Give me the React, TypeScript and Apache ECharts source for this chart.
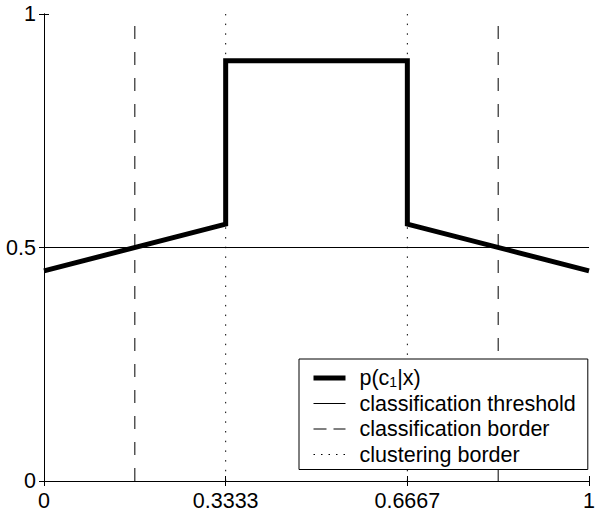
import React, { useEffect, useRef } from "react";
import * as echarts from "echarts";

// ---- data ----
const curveX = [0, 1 / 3, 1 / 3, 2 / 3, 2 / 3, 1];
const curveY = [0.45, 0.55, 0.9, 0.9, 0.55, 0.45];
const thresholdValue = 0.5;
const classificationBorders = [1 / 6, 5 / 6];
const clusteringBorders = [1 / 3, 2 / 3];
const xTickLabels = ["0", "0.3333", "0.6667", "1"];
const yTickLabels = ["0", "0.5", "1"];
const seriesNames = [
  "p(c1|x)",
  "classification threshold",
  "classification border",
  "clustering border",
];

const FONT = "'Liberation Sans', Arial, Helvetica, sans-serif";
const FS = 21.5;

export default function App() {
  const ref = useRef<HTMLDivElement>(null);

  useEffect(() => {
    if (!ref.current) return;
    const chart = echarts.init(ref.current, undefined, { renderer: "svg" });

    const xLabel = (v: number) => xTickLabels[Math.round(v * 3)] ?? "";
    const yLabel = (v: number) => yTickLabels[Math.round(v * 2)] ?? "";

    const series: any[] = [];
    series.push({
      name: seriesNames[1],
      type: "line",
      symbol: "none",
      silent: true,
      data: [
        [0, thresholdValue],
        [1, thresholdValue],
      ],
      lineStyle: { color: "#000", width: 1, type: "solid" },
      z: 2,
    });
    classificationBorders.forEach((b) =>
      series.push({
        name: seriesNames[2],
        type: "line",
        symbol: "none",
        silent: true,
        data: [
          [b, 0],
          [b, 1],
        ],
        lineStyle: { color: "#000", width: 1, type: [13, 13] },
        z: 2,
      })
    );
    clusteringBorders.forEach((b) =>
      series.push({
        name: seriesNames[3],
        type: "line",
        symbol: "none",
        silent: true,
        data: [
          [b, 0],
          [b, 1],
        ],
        lineStyle: { color: "#000", width: 1, type: [1.5, 8.2] },
        z: 2,
      })
    );
    series.push({
      name: seriesNames[0],
      type: "line",
      symbol: "none",
      silent: true,
      data: curveX.map((x, i) => [x, curveY[i]]),
      lineStyle: { color: "#000", width: 5, join: "miter", cap: "butt" },
      z: 3,
    });

    const axisCommon = {
      type: "value" as const,
      min: 0,
      max: 1,
      splitLine: { show: false },
      axisLine: { show: true, lineStyle: { color: "#000", width: 1 } },
      axisTick: { show: true, inside: true, length: 5, lineStyle: { color: "#000" } },
    };

    chart.setOption({
      animation: false,
      backgroundColor: "#fff",
      textStyle: { fontFamily: FONT },
      grid: { left: 44, top: 14, right: 2, bottom: 30, containLabel: false },
      xAxis: [
        {
          ...axisCommon,
          position: "bottom",
          interval: 1 / 3,
          axisLabel: {
            show: true,
            formatter: xLabel,
            color: "#000",
            fontSize: FS,
            fontFamily: FONT,
            margin: 9,
            showMinLabel: true,
            showMaxLabel: true,
          },
        },
        {
          ...axisCommon,
          position: "top",
          interval: 1 / 3,
          axisLabel: { show: false },
        },
      ],
      yAxis: [
        {
          ...axisCommon,
          position: "left",
          interval: 0.5,
          axisLabel: {
            show: true,
            formatter: yLabel,
            color: "#000",
            fontSize: FS,
            fontFamily: FONT,
            margin: 8,
          },
        },
        {
          ...axisCommon,
          position: "right",
          interval: 0.5,
          axisLabel: { show: false },
        },
      ],
      legend: {
        show: true,
        orient: "vertical",
        left: 299,
        top: 359,
        padding: [3, 12, 4, 12],
        itemGap: 3.5,
        itemWidth: 32,
        itemHeight: 24,
        backgroundColor: "#fff",
        borderColor: "#000",
        borderWidth: 1,
        borderRadius: 0,
        selectedMode: false,
        data: [
          { name: seriesNames[0] },
          { name: seriesNames[1] },
          { name: seriesNames[2], lineStyle: { type: [13, 7] } },
          { name: seriesNames[3], lineStyle: { type: [1.5, 6] } },
        ],
        itemStyle: { opacity: 0 },
        lineStyle: { width: "inherit", type: "inherit", color: "inherit" },
        formatter: (name: string) =>
          name === seriesNames[0] ? "{n|p(c}{s|1}{n||x)}" : "{m|" + name + "}",
        textStyle: {
          color: "#000",
          fontFamily: FONT,
          fontSize: FS,
          padding: [0, 0, 0, 9],
          rich: {
            m: { fontSize: FS, lineHeight: 22, color: "#000", fontFamily: FONT },
            n: {
              fontSize: FS,
              lineHeight: 22,
              verticalAlign: "top",
              color: "#000",
              fontFamily: FONT,
            },
            s: {
              fontSize: 14,
              lineHeight: 14,
              padding: [13, 0, 0, 0],
              verticalAlign: "bottom",
              color: "#000",
              fontFamily: FONT,
            },
          },
        },
      },
      series,
    });

    return () => chart.dispose();
  }, []);

  return (
    <div
      ref={ref}
      style={{ position: "fixed", left: 0, top: 0, width: 598, height: 512, background: "#fff" }}
    />
  );
}
